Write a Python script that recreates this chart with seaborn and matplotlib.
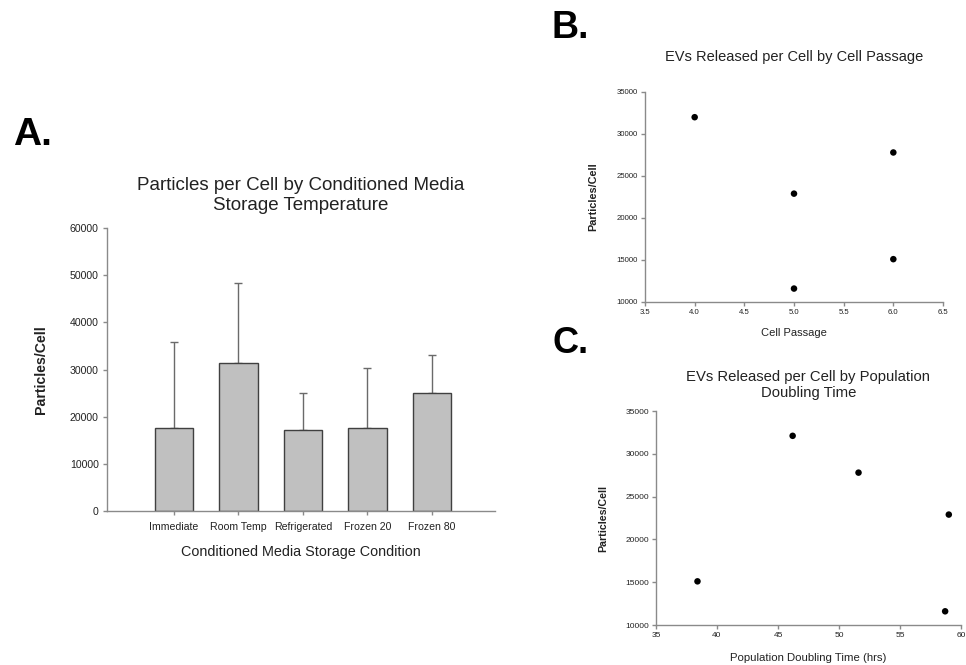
import matplotlib
matplotlib.use("Agg")
import matplotlib.pyplot as plt
import seaborn as sns
import numpy as np
import pandas as pd

# ---- data ----
conditions = ["Immediate", "Room Temp", "Refrigerated", "Frozen 20", "Frozen 80"]
particles_mean = [17700, 31400, 17200, 17700, 25000]
particles_err = [18200, 17000, 7800, 12700, 8000]

passage = [4.0, 5.0, 5.0, 6.0, 6.0]
passage_particles = [32000, 22900, 11600, 27800, 15100]

doubling_time = [38.4, 46.2, 51.6, 59.0, 58.7]
doubling_particles = [15100, 32100, 27800, 22900, 11600]

sns.set_theme(style="ticks")
plt.rcParams["font.family"] = ["Liberation Sans", "DejaVu Sans"]
TXT = "#222222"
AXC = "#8a8a8a"
plt.rcParams["text.color"] = TXT
plt.rcParams["axes.labelcolor"] = TXT
plt.rcParams["xtick.color"] = AXC
plt.rcParams["ytick.color"] = AXC
plt.rcParams["xtick.labelcolor"] = TXT
plt.rcParams["ytick.labelcolor"] = TXT

W, H = 966, 665
fig = plt.figure(figsize=(W / 100, H / 100), dpi=100)

def axes_px(l, r, t, b):
    return fig.add_axes([l / W, 1 - b / H, (r - l) / W, (b - t) / H])

def style(ax):
    sns.despine(ax=ax)
    for s in ["left", "bottom"]:
        ax.spines[s].set_color(AXC)
        ax.spines[s].set_linewidth(1.0)

# ---- Panel A ----
axA = axes_px(107, 495, 228, 511)
dfA = pd.DataFrame({"cond": conditions, "val": particles_mean})
sns.barplot(data=dfA, x="cond", y="val", color="#c0c0c0", saturation=1,
            edgecolor="#404040", linewidth=1.0, width=0.6, errorbar=None, ax=axA)
axA.errorbar(np.arange(len(conditions)), particles_mean,
             yerr=[np.zeros(len(conditions)), particles_err],
             fmt="none", ecolor="#6a6a6a", elinewidth=1.0, capsize=3, capthick=1.0, zorder=0)
axA.set_xlim(-1.04, 4.98)
axA.set_ylim(0, 60000)
axA.set_yticks(np.arange(0, 60001, 10000))
axA.tick_params(axis="y", length=3, width=1, labelsize=7.6, pad=3)
axA.tick_params(axis="x", length=3, width=1, labelsize=7.6, pad=5)
axA.set_xlabel("Conditioned Media Storage Condition", fontsize=10.4, labelpad=9)
axA.set_ylabel("Particles/Cell", fontsize=10.2, fontweight="bold", labelpad=16)
axA.set_title("Particles per Cell by Conditioned Media\nStorage Temperature",
              fontsize=13.5, pad=13, linespacing=1.2)
style(axA)

# ---- Panel B ----
axB = axes_px(645, 943, 92, 302)
sns.scatterplot(x=passage, y=passage_particles, color="black", s=22,
                edgecolor="none", ax=axB)
axB.set_xlim(3.5, 6.5)
axB.set_ylim(10000, 35000)
axB.set_xticks(np.arange(3.5, 6.51, 0.5))
axB.set_xticklabels([f"{v:.1f}" for v in np.arange(3.5, 6.51, 0.5)])
axB.set_yticks(np.arange(10000, 35001, 5000))
axB.tick_params(axis="both", length=3, width=1, labelsize=5.6, pad=2)
axB.set_xlabel("Cell Passage", fontsize=8, labelpad=9)
axB.set_ylabel("Particles/Cell", fontsize=7.8, fontweight="bold", labelpad=13)
axB.set_title("EVs Released per Cell by Cell Passage", fontsize=10.5, pad=22)
style(axB)

# ---- Panel C ----
axC = axes_px(656, 961, 411, 625)
sns.scatterplot(x=doubling_time, y=doubling_particles, color="black", s=22,
                edgecolor="none", ax=axC)
axC.set_xlim(35, 60)
axC.set_ylim(10000, 35000)
axC.set_xticks(np.arange(35, 61, 5))
axC.set_yticks(np.arange(10000, 35001, 5000))
axC.tick_params(axis="both", length=3, width=1, labelsize=6, pad=2)
axC.set_xlabel("Population Doubling Time (hrs)", fontsize=8.2, labelpad=10)
axC.set_ylabel("Particles/Cell", fontsize=7.7, fontweight="bold", labelpad=12)
axC.set_title("EVs Released per Cell by Population\nDoubling Time",
              fontsize=10.7, pad=10, linespacing=1.15)
style(axC)

# ---- panel letters ----
fig.text(13 / W, 1 - 145 / H, "A.", fontsize=28, fontweight="bold", color="black", va="baseline")
fig.text(552 / W, 1 - 38 / H, "B.", fontsize=27, fontweight="bold", color="black", va="baseline")
fig.text(552 / W, 1 - 353 / H, "C.", fontsize=26, fontweight="bold", color="black", va="baseline")

fig.savefig("out.png", dpi=100)
